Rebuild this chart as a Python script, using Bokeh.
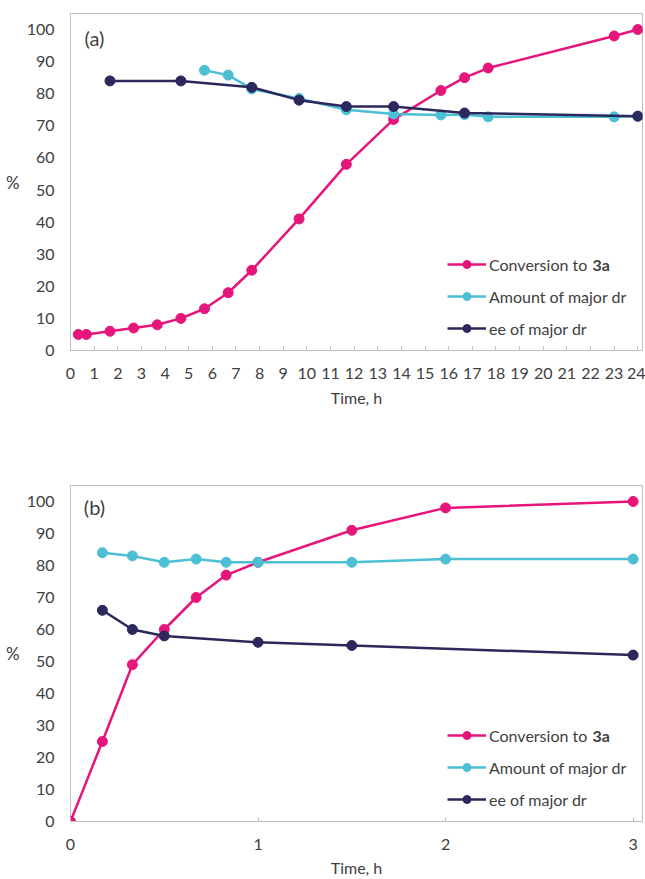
from bokeh.plotting import figure
from bokeh.models import Range1d, FixedTicker, Legend, LegendItem, Label
from bokeh.layouts import column
from bokeh.embed import file_html
from bokeh.resources import INLINE

# ---------------- data: panel (a) ----------------
time_a_conv = [0.33, 0.67, 1.67, 2.67, 3.67, 4.67, 5.67, 6.67, 7.67, 9.67,
               11.67, 13.67, 15.67, 16.67, 17.67, 23, 24]
conv_a = [5, 5, 6, 7, 8, 10, 13, 18, 25, 41, 58, 72, 81, 85, 88, 98, 100]

time_a_amount = [5.67, 6.67, 7.67, 9.67, 11.67, 13.67, 15.67, 16.67, 17.67, 23, 24]
amount_a = [87.3, 85.8, 81.5, 78.5, 75, 73.7, 73.4, 73.5, 72.8, 72.8, 73]

time_a_ee = [1.67, 4.67, 7.67, 9.67, 11.67, 13.67, 16.67, 24]
ee_a = [84, 84, 82, 78, 76, 76, 74, 73]

x_ticks_a = [0, 1, 2, 3, 4, 5, 6, 7, 8, 9, 10, 11, 12, 13, 14, 15, 16, 17,
             18, 19, 20, 21, 22, 23, 24]

# ---------------- data: panel (b) ----------------
time_b_conv = [0, 0.17, 0.33, 0.5, 0.67, 0.83, 1, 1.5, 2, 3]
conv_b = [0, 25, 49, 60, 70, 77, 81, 91, 98, 100]

time_b_amount = [0.17, 0.33, 0.5, 0.67, 0.83, 1, 1.5, 2, 3]
amount_b = [84, 83, 81, 82, 81, 81, 81, 82, 82]

time_b_ee = [0.17, 0.33, 0.5, 1, 1.5, 3]
ee_b = [66, 60, 58, 56, 55, 52]

x_ticks_b = [0, 1, 2, 3]
y_ticks = [0, 10, 20, 30, 40, 50, 60, 70, 80, 90, 100]

series_labels = ["Conversion to", "Amount of major dr", "ee of major dr"]
bold_suffix = "3a"

# ---------------- style ----------------
PINK = "#E6157C"
CYAN = "#4CBFD5"
NAVY = "#2C285B"
TEXT = "#404040"
FRAME = "#BFBFBF"
FONT = "Lato"


def make_panel(tag, tag_y, series, x_ticks, x_end, height, border_top,
               border_bottom, tick_standoff, label_standoff):
    p = figure(width=645, height=height,
               x_range=Range1d(0, x_end), y_range=Range1d(0, 105),
               output_backend="svg", toolbar_location=None,
               min_border_left=70, min_border_right=3,
               min_border_top=border_top, min_border_bottom=border_bottom)
    p.grid.visible = False
    p.outline_line_color = FRAME
    p.outline_line_width = 1

    # x axis
    xa = p.xaxis[0]
    xa.ticker = FixedTicker(ticks=x_ticks)
    xa.major_tick_in = 4
    xa.major_tick_out = 0
    xa.major_tick_line_color = FRAME
    xa.minor_tick_line_color = None
    xa.axis_line_color = FRAME
    xa.major_label_text_font = FONT
    xa.major_label_text_font_size = "16px"
    xa.major_label_text_color = TEXT
    xa.major_label_standoff = tick_standoff
    xa.axis_label = "Time, h"
    xa.axis_label_text_font = FONT
    xa.axis_label_text_font_size = "16px"
    xa.axis_label_text_font_style = "normal"
    xa.axis_label_text_color = TEXT
    xa.axis_label_standoff = label_standoff

    # y axis
    ya = p.yaxis[0]
    ya.ticker = FixedTicker(ticks=y_ticks)
    ya.major_tick_in = 0
    ya.major_tick_out = 0
    ya.minor_tick_line_color = None
    ya.axis_line_color = None
    ya.major_label_text_font = FONT
    ya.major_label_text_font_size = "16px"
    ya.major_label_text_color = TEXT
    ya.major_label_standoff = 16
    ya.axis_label = "%"
    ya.axis_label_text_font = FONT
    ya.axis_label_text_font_size = "17px"
    ya.axis_label_text_font_style = "normal"
    ya.axis_label_text_color = TEXT
    ya.axis_label_standoff = 4
    ya.axis_label_text_baseline = "top"
    try:
        ya.axis_label_orientation = "horizontal"
    except Exception:
        pass

    items = []
    for (xs, ys, color), lab in zip(series, series_labels):
        r_line = p.line(xs, ys, line_color=color, line_width=2.5)
        r_pts = p.scatter(xs, ys, marker="circle", size=10,
                          fill_color=color, line_color=color)
        items.append(LegendItem(label=lab, renderers=[r_line, r_pts]))

    legend = Legend(items=items, location=(377, 12))
    legend.padding = 0
    legend.margin = 0
    legend.spacing = 12
    legend.glyph_width = 39
    legend.glyph_height = 20
    legend.label_height = 20
    legend.label_standoff = 3
    legend.label_text_font = FONT
    legend.label_text_font_size = "16px"
    legend.label_text_color = TEXT
    legend.background_fill_alpha = 0
    legend.border_line_color = None
    p.add_layout(legend)

    p.add_layout(Label(x=522, y=86, x_units="screen", y_units="screen",
                       text=bold_suffix, text_font=FONT, text_font_size="16px",
                       text_font_style="bold", text_color=TEXT,
                       text_baseline="middle", text_align="left"))

    p.add_layout(Label(x=24, y=tag_y, x_units="screen", y_units="screen",
                       text=tag, text_font=FONT, text_font_size="20px",
                       text_color=TEXT, text_baseline="middle",
                       text_align="center"))
    return p


p1 = make_panel("(a)", 313,
                [(time_a_conv, conv_a, PINK),
                 (time_a_amount, amount_a, CYAN),
                 (time_a_ee, ee_a, NAVY)],
                x_ticks_a, 24.2, 440, 13, 90, 17, 6)

p2 = make_panel("(b)", 315,
                [(time_b_conv, conv_b, PINK),
                 (time_b_amount, amount_b, CYAN),
                 (time_b_ee, ee_b, NAVY)],
                x_ticks_b, 3.05, 439, 45, 58, 17, 5)

layout = column(p1, p2, spacing=0)
open("out.html", "w").write(file_html(layout, INLINE))
